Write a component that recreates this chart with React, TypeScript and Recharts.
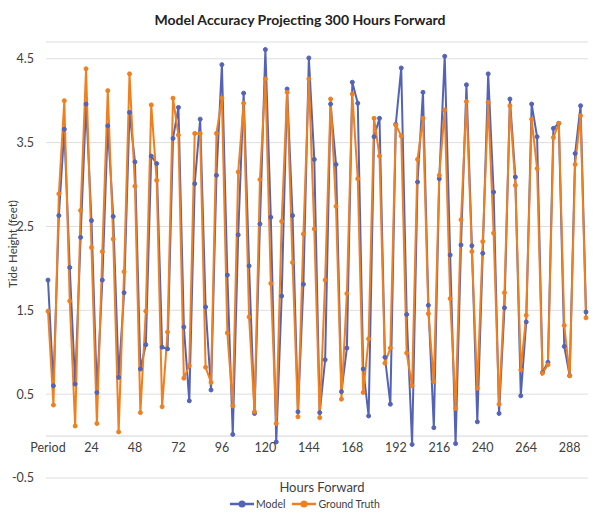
import {
  CartesianGrid,
  Legend,
  Line,
  LineChart,
  ReferenceLine,
  XAxis,
  YAxis,
} from 'recharts';

// hours forward, one reading every 3 hours
const hours = [
  0, 3, 6, 9, 12, 15, 18, 21, 24, 27, 30, 33, 36, 39, 42, 45, 48, 51, 54, 57,
  60, 63, 66, 69, 72, 75, 78, 81, 84, 87, 90, 93, 96, 99, 102, 105, 108, 111, 114, 117,
  120, 123, 126, 129, 132, 135, 138, 141, 144, 147, 150, 153, 156, 159, 162, 165, 168, 171, 174, 177,
  180, 183, 186, 189, 192, 195, 198, 201, 204, 207, 210, 213, 216, 219, 222, 225, 228, 231, 234, 237,
  240, 243, 246, 249, 252, 255, 258, 261, 264, 267, 270, 273, 276, 279, 282, 285, 288, 291, 294, 297,
];

const model = [
  1.86, 0.6, 2.63, 3.66, 2.01, 0.62, 2.37, 3.96, 2.57, 0.52,
  1.86, 3.7, 2.62, 0.7, 1.71, 3.86, 3.27, 0.8, 1.09, 3.34,
  3.25, 1.06, 1.04, 3.55, 3.92, 1.3, 0.42, 3.01, 3.78, 1.54,
  0.55, 3.11, 4.43, 1.92, 0.02, 2.4, 4.09, 2.03, 0.27, 2.53,
  4.61, 2.61, -0.07, 1.67, 4.14, 2.63, 0.29, 1.81, 4.51, 3.3,
  0.28, 0.91, 3.96, 3.24, 0.53, 1.05, 4.22, 3.97, 0.8, 0.24,
  3.57, 3.79, 0.94, 0.38, 3.72, 4.39, 1.45, -0.1, 3.03, 4.1,
  1.56, 0.1, 3.07, 4.53, 2.16, -0.09, 2.28, 4.19, 2.27, 0.17,
  2.18, 4.32, 2.91, 0.27, 1.53, 4.02, 3.09, 0.48, 1.36, 3.96,
  3.57, 0.76, 0.88, 3.67, 3.73, 1.07, 0.72, 3.37, 3.94, 1.48,
];

const groundTruth = [
  1.49, 0.37, 2.89, 4.0, 1.61, 0.12, 2.69, 4.38, 2.25, 0.15,
  2.2, 4.12, 2.35, 0.05, 1.96, 4.32, 2.98, 0.28, 1.49, 3.95,
  3.05, 0.35, 1.24, 4.03, 3.59, 0.69, 0.84, 3.61, 3.61, 0.82,
  0.64, 3.61, 4.03, 1.23, 0.36, 3.15, 3.97, 1.42, 0.29, 3.06,
  4.26, 1.82, 0.15, 2.56, 4.1, 2.07, 0.23, 2.41, 4.26, 2.47,
  0.22, 1.86, 4.02, 2.74, 0.44, 1.7, 4.08, 3.07, 0.52, 1.16,
  3.79, 3.34, 0.87, 1.05, 3.71, 3.58, 0.99, 0.6, 3.3, 3.79,
  1.46, 0.65, 3.11, 3.89, 1.64, 0.33, 2.58, 3.99, 2.2, 0.57,
  2.32, 3.98, 2.42, 0.38, 1.71, 3.94, 2.99, 0.79, 1.44, 3.78,
  3.19, 0.75, 0.85, 3.56, 3.73, 1.32, 0.72, 3.24, 3.82, 1.41,
];

const xTicks = [0, 24, 48, 72, 96, 120, 144, 168, 192, 216, 240, 264, 288];
const yTicks = [-0.5, 0.5, 1.5, 2.5, 3.5, 4.5];

const BLUE = '#5463b6';
const ORANGE = '#ef7f1f';
const FONT = 'Lato, "Open Sans", sans-serif';

const data = hours.map((h, i) => ({ hour: h, model: model[i], truth: groundTruth[i] }));

function HourTick({ x, y, payload }: any) {
  const label = payload.value === 0 ? 'Period' : String(payload.value);
  return (
    <text x={x} y={y} dy={-26} textAnchor="middle" fontSize={12.5} fill="#404040" fontFamily={FONT}>
      {label}
    </text>
  );
}

function LegendContent() {
  const items = [
    { name: 'Model', color: BLUE },
    { name: 'Ground Truth', color: ORANGE },
  ];
  return (
    <div
      style={{
        display: 'flex',
        justifyContent: 'center',
        gap: 7,
        paddingLeft: 22,
        fontFamily: FONT,
        fontSize: 10.5,
        color: '#404040',
      }}
    >
      {items.map((it) => (
        <span key={it.name} style={{ display: 'flex', alignItems: 'center', gap: 2 }}>
          <svg width={24} height={10}>
            <line x1={0} y1={5} x2={24} y2={5} stroke={it.color} strokeWidth={2.5} />
            <circle cx={12} cy={5} r={3.5} fill={it.color} />
          </svg>
          {it.name}
        </span>
      ))}
    </div>
  );
}

export default function App() {
  return (
    <div style={{ position: 'absolute', left: 0, top: 0, width: 600, height: 520, background: '#fff' }}>
      <div
        style={{
          position: 'absolute',
          top: 11,
          width: 600,
          textAlign: 'center',
          fontFamily: FONT,
          fontWeight: 700,
          fontSize: 14,
          color: '#222',
        }}
      >
        Model Accuracy Projecting 300 Hours Forward
      </div>
      <LineChart width={600} height={520} data={data} margin={{ top: 42, right: 12, left: 0, bottom: 4 }}>
        <CartesianGrid vertical={false} stroke="#dedede" />
        <XAxis
          dataKey="hour"
          type="number"
          domain={[0, 297]}
          ticks={xTicks}
          tick={<HourTick />}
          tickLine={false}
          axisLine={false}
          tickSize={0}
          tickMargin={0}
          height={20}
          padding={{ left: 2, right: 2 }}
          label={{
            value: 'Hours Forward',
            position: 'insideBottom',
            offset: 6,
            fill: '#404040',
            fontSize: 13,
            fontFamily: FONT,
            dx: 5,
          }}
        />
        <YAxis
          domain={[-0.5, 4.7]}
          ticks={yTicks}
          allowDataOverflow
          width={46}
          tickLine={false}
          axisLine={false}
          tickMargin={6}
          tick={{ fontSize: 12.5, fill: '#404040', fontFamily: FONT }}
          label={{
            value: 'Tide Height (feet)',
            angle: -90,
            position: 'insideLeft',
            offset: 13,
            dy: -16,
            fill: '#404040',
            fontSize: 11.5,
            fontFamily: FONT,
            style: { textAnchor: 'middle' },
          }}
        />
        <ReferenceLine y={0} stroke="#d4d4d4" />
        <Legend verticalAlign="bottom" height={18} content={<LegendContent />} />
        <Line
          type="linear"
          dataKey="model"
          name="Model"
          stroke={BLUE}
          strokeWidth={2}
          dot={{ r: 2, fill: BLUE, stroke: BLUE, strokeWidth: 1 }}
          isAnimationActive={false}
        />
        <Line
          type="linear"
          dataKey="truth"
          name="Ground Truth"
          stroke={ORANGE}
          strokeWidth={2}
          dot={{ r: 2, fill: ORANGE, stroke: ORANGE, strokeWidth: 1 }}
          isAnimationActive={false}
        />
      </LineChart>
    </div>
  );
}
